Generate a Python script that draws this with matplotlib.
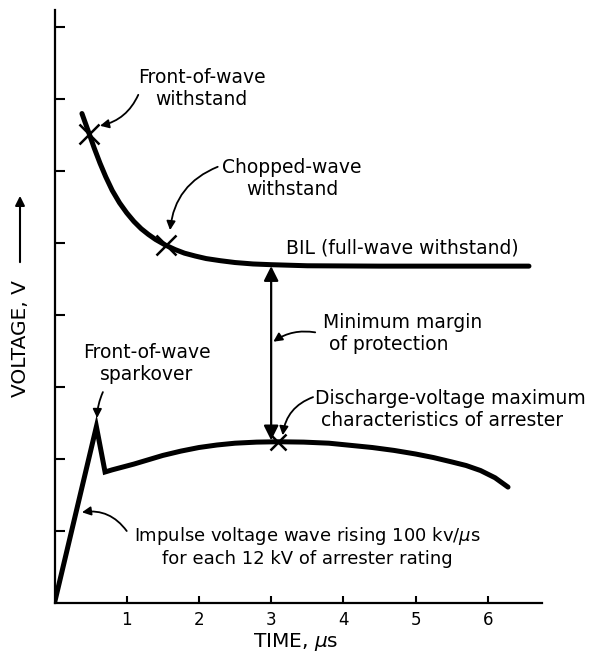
import numpy as np
import matplotlib
matplotlib.use('Agg')
from matplotlib import pyplot as plt

# upper curve: front-of-wave withstand -> chopped-wave -> BIL
withstand_t = [0.38, 0.43, 0.48, 0.55, 0.63, 0.71, 0.80, 0.90, 1.00, 1.10, 1.20, 1.30, 1.40, 1.54,
               1.67, 1.80, 1.95, 2.10, 2.30, 2.50, 2.75, 3.00, 3.50, 4.50, 6.57]
withstand_v = [6.80, 6.66, 6.52, 6.32, 6.11, 5.92, 5.73, 5.56, 5.42, 5.30, 5.20, 5.12, 5.05, 4.97,
               4.91, 4.86, 4.82, 4.785, 4.755, 4.73, 4.71, 4.70, 4.685, 4.68, 4.68]

# lower curve: impulse rise, sparkover, discharge voltage
arrester_t = [0.0, 0.58, 0.70, 0.80, 0.95, 1.10, 1.30, 1.50, 1.75, 2.00, 2.25, 2.50, 2.80, 3.10,
              3.45, 3.80, 4.10, 4.40, 4.70, 5.00, 5.25, 5.50, 5.70, 5.90, 6.10, 6.28]
arrester_v = [0.0, 2.45, 1.82, 1.85, 1.89, 1.93, 1.99, 2.05, 2.11, 2.16, 2.195, 2.22, 2.235, 2.24,
              2.235, 2.22, 2.19, 2.16, 2.12, 2.07, 2.02, 1.96, 1.91, 1.84, 1.74, 1.61]

# marked points
marks_t = [0.48, 1.54, 3.10]
marks_v = [6.52, 4.97, 2.24]

xticks = [1, 2, 3, 4, 5, 6]
yticks = [1, 2, 3, 4, 5, 6, 7, 8]

plt.rcParams['font.family'] = ['DejaVu Sans']

fig = plt.figure(figsize=(5.97, 6.59), dpi=100)
ax = fig.add_axes([0.0913, 0.085, 0.8165, 0.9])
ax.set_xlim(0, 6.75)
ax.set_ylim(0, 8.24)

for s in ['top', 'right']:
    ax.spines[s].set_visible(False)
for s in ['left', 'bottom']:
    ax.spines[s].set_linewidth(1.6)

ax.set_xticks(xticks)
ax.set_xticklabels([str(t) for t in xticks], fontsize=12)
ax.set_yticks(yticks)
ax.set_yticklabels([])
ax.tick_params(axis='x', direction='in', length=5, width=1.5, pad=6)
ax.tick_params(axis='y', direction='in', length=7, width=1.5)

ax.plot(withstand_t, withstand_v, color='black', lw=3.6, solid_capstyle='round', solid_joinstyle='round')
ax.plot(arrester_t, arrester_v, color='black', lw=3.6, solid_capstyle='round', solid_joinstyle='miter')
ax.plot(marks_t[:2], marks_v[:2], 'x', color='black', ms=15, mew=1.8)
ax.plot(marks_t[2:], marks_v[2:], 'x', color='black', ms=12, mew=1.8)

# margin of protection double arrow
ax.annotate('', xy=(3.0, withstand_v[-1]), xytext=(3.0, 2.26),
            arrowprops=dict(arrowstyle='<|-|>', color='black', lw=1.6, mutation_scale=22,
                            shrinkA=0, shrinkB=0))

fs = 13.5
ax.text(2.04, 7.15, 'Front-of-wave\nwithstand', ha='center', va='center', fontsize=fs)
ax.text(3.29, 5.90, 'Chopped-wave\nwithstand', ha='center', va='center', fontsize=fs)
ax.text(3.21, 4.93, 'BIL (full-wave withstand)', ha='left', va='center', fontsize=fs)
ax.text(3.72, 3.74, 'Minimum margin\n of protection', ha='left', va='center', fontsize=fs)
ax.text(3.61, 2.69, 'Discharge-voltage maximum\n characteristics of arrester', ha='left', va='center', fontsize=fs)
ax.text(1.28, 3.33, 'Front-of-wave\nsparkover', ha='center', va='center', fontsize=fs)
ax.text(3.50, 0.78, 'Impulse voltage wave rising 100 kv/$\\mu$s\nfor each 12 kV of arrester rating',
        ha='center', va='center', fontsize=13)

arrow = dict(arrowstyle='-|>', color='black', lw=1.3, mutation_scale=13, shrinkA=0, shrinkB=0)
ax.annotate('', xy=(0.63, 6.63), xytext=(1.16, 7.06),
            arrowprops=dict(arrow, connectionstyle='arc3,rad=-0.25'))
ax.annotate('', xy=(1.60, 5.18), xytext=(2.26, 6.06),
            arrowprops=dict(arrow, connectionstyle='arc3,rad=0.3'))
ax.annotate('', xy=(3.03, 3.63), xytext=(3.61, 3.76),
            arrowprops=dict(arrow, connectionstyle='arc3,rad=0.2'))
ax.annotate('', xy=(3.16, 2.33), xytext=(3.58, 2.86),
            arrowprops=dict(arrow, connectionstyle='arc3,rad=0.3'))
ax.annotate('', xy=(0.59, 2.57), xytext=(0.67, 2.93),
            arrowprops=dict(arrow, connectionstyle='arc3,rad=0.1'))
ax.annotate('', xy=(0.38, 1.26), xytext=(1.00, 1.00),
            arrowprops=dict(arrow, connectionstyle='arc3,rad=0.3'))

fig.text(0.496, 0.026, 'TIME, $\\mu$s', ha='center', va='center', fontsize=14.5)
fig.text(0.035, 0.486, 'VOLTAGE, V', ha='center', va='center', rotation=90, fontsize=14.5)
fig.patches.append(matplotlib.patches.FancyArrowPatch(
    (0.0335, 0.598), (0.0335, 0.707), transform=fig.transFigure,
    arrowstyle='-|>', mutation_scale=14, lw=1.5, color='black'))

plt.savefig('out.png', dpi=100)
